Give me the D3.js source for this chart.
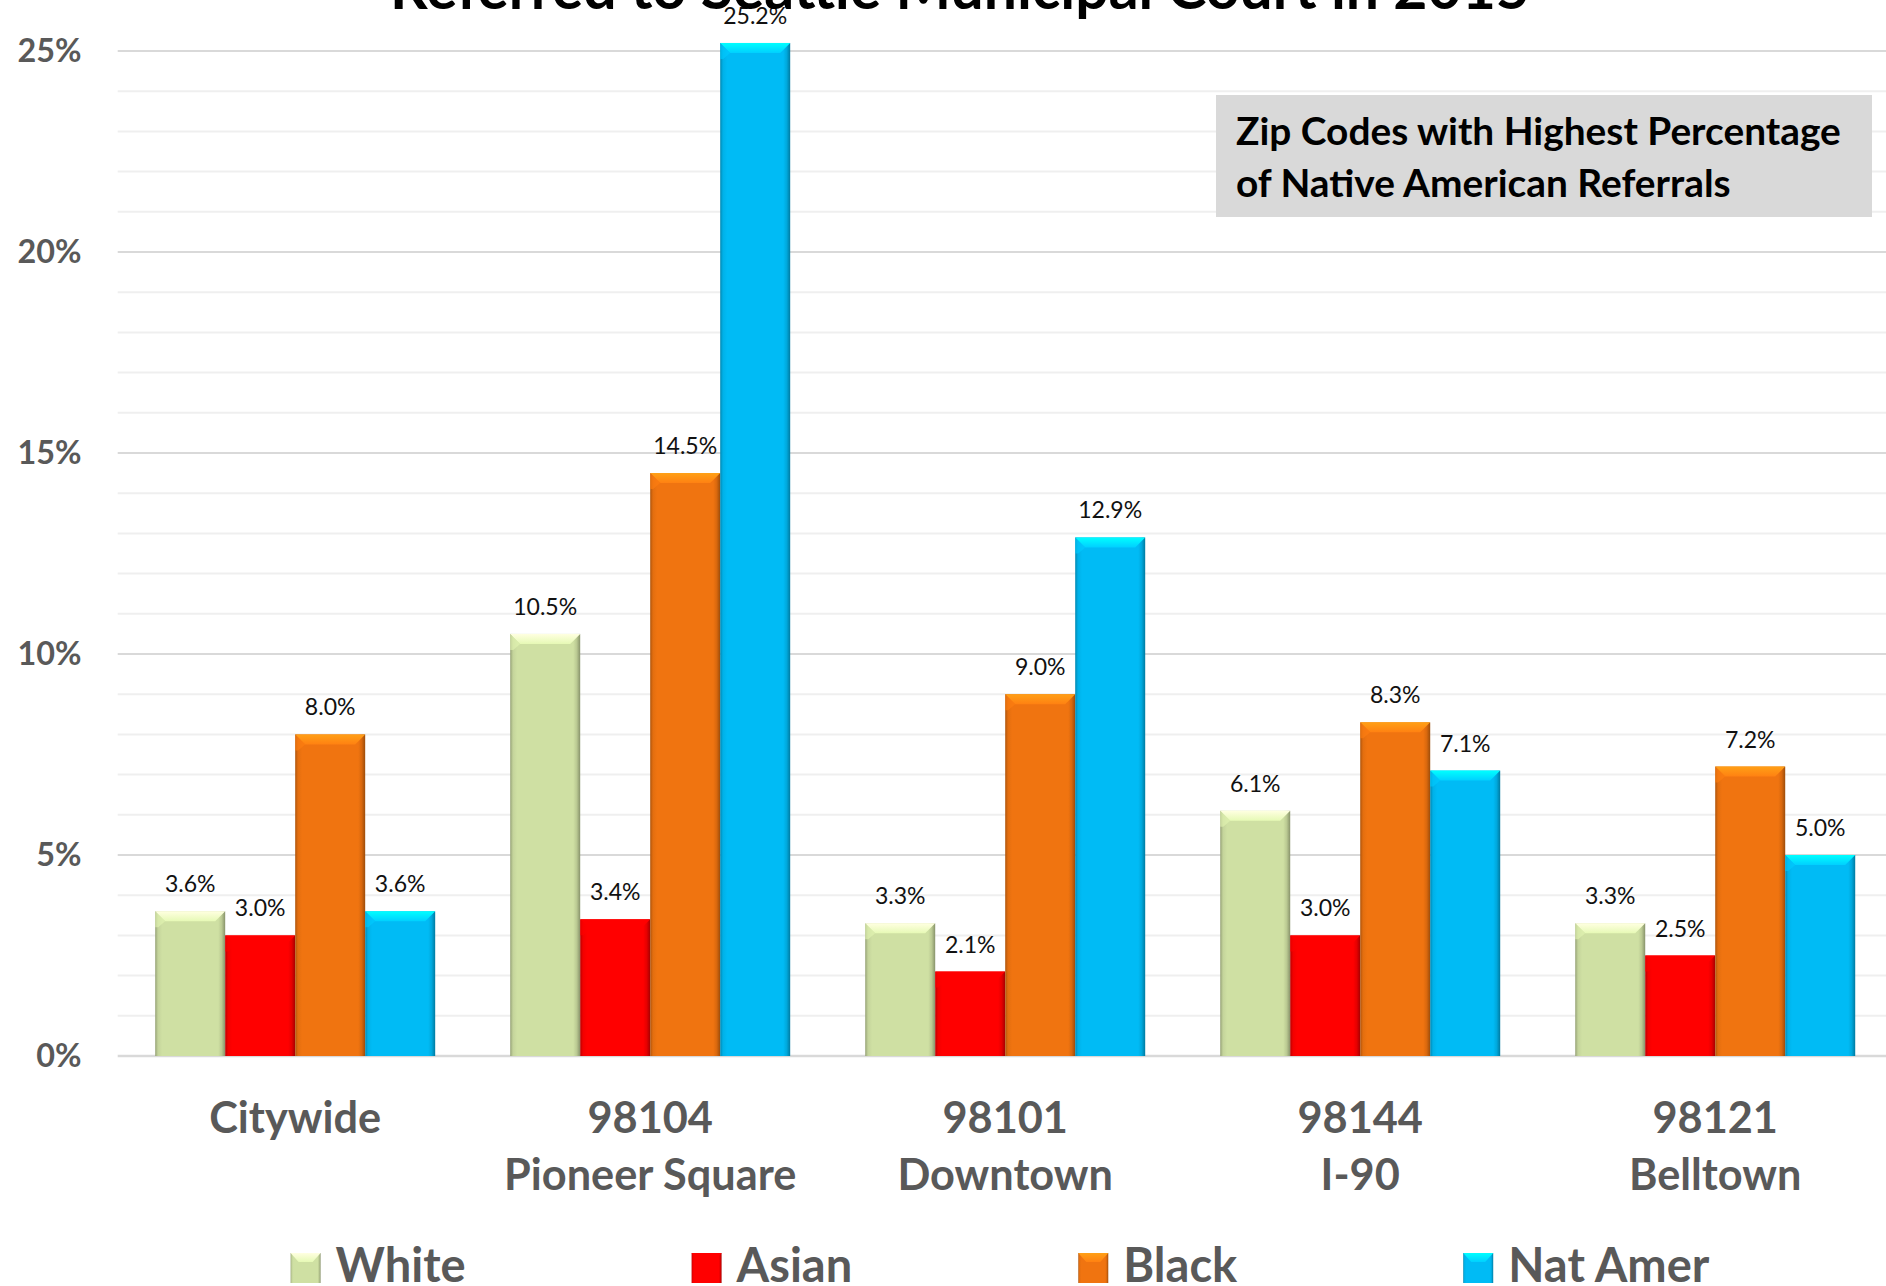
<!DOCTYPE html>
<html><head><meta charset="utf-8">
<script src="https://cdn.jsdelivr.net/npm/d3@7"></script>
<style>body{margin:0;background:#fff;} svg{display:block}</style>
</head><body><svg id="chart" width="1886" height="1286"></svg>
<script>
// ---- data ----
const categories = ["Citywide","98104","98101","98144","98121"];
const subLabels = ["","Pioneer Square","Downtown","I-90","Belltown"];
const seriesNames = ["White","Asian","Black","Nat Amer"];
const white   = [3.6,10.5,3.3,6.1,3.3];
const asian   = [3.0,3.4,2.1,3.0,2.5];
const black   = [8.0,14.5,9.0,8.3,7.2];
const natAmer = [3.6,25.2,12.9,7.1,5.0];
const yTicks = [0,5,10,15,20,25];
const titleText = "Referred to Seattle Municipal Court in 2015";
const noteLines = ["Zip Codes with Highest Percentage","of Native American Referrals"];
const seriesColors = ["#cfe0a3","#ff0000","#f07410","#00bbf5"];

const seriesValues = [white, asian, black, natAmer];
const FONT = "Lato, 'Open Sans', sans-serif";
const svg = d3.select("#chart");
const defs = svg.append("defs");

const x = d3.scaleBand().domain(categories).range([117.7, 1892.7]).paddingInner(0.2113).paddingOuter(0.1056);
const xs = d3.scaleBand().domain(seriesNames).range([0, x.bandwidth()]);
const y = d3.scaleLinear().domain([0,25]).range([1056, 51]);

function fitSize(text, weight, target) {
  const t = svg.append("text").attr("font-family", FONT).attr("font-weight", weight).attr("font-size", 100).text(text);
  const w = t.node().getComputedTextLength();
  t.remove();
  return 100 * target / w;
}

// gridlines
const minor = y.ticks(25);
svg.append("g").selectAll("line").data(minor).join("line")
  .attr("x1", 117.7).attr("x2", 1886)
  .attr("y1", d => y(d)).attr("y2", d => y(d))
  .attr("stroke", d => d % 5 === 0 ? "#d9d9d9" : "#efefef")
  .attr("stroke-width", d => d === 0 ? 2.5 : 2);

// y axis labels
const tickFs = fitSize("25%", 700, 64);
svg.append("g").selectAll("text").data(yTicks).join("text")
  .attr("x", 81.5).attr("y", d => y(d) + 11)
  .attr("text-anchor", "end")
  .attr("font-family", FONT).attr("font-weight", 700).attr("font-size", tickFs)
  .attr("fill", "#595959")
  .text(d => d + "%");

// gradients
seriesColors.forEach((c, i) => {
  const base = d3.color(c);
  const g = defs.append("linearGradient").attr("id", "side" + i).attr("x1", 0).attr("x2", 1).attr("y1", 0).attr("y2", 0);
  g.append("stop").attr("offset", 0).attr("stop-color", base.darker(0.9));
  g.append("stop").attr("offset", 0.04).attr("stop-color", base.darker(0.15));
  g.append("stop").attr("offset", 0.1).attr("stop-color", base);
  g.append("stop").attr("offset", 0.9).attr("stop-color", base);
  g.append("stop").attr("offset", 0.95).attr("stop-color", base.darker(0.3));
  g.append("stop").attr("offset", 1).attr("stop-color", base.darker(1.2));
  const t = defs.append("linearGradient").attr("id", "top" + i).attr("x1", 0).attr("x2", 0).attr("y1", 0).attr("y2", 1);
  t.append("stop").attr("offset", 0).attr("stop-color", base.brighter(0.9));
  t.append("stop").attr("offset", 1).attr("stop-color", base.brighter(0.3));
});

// bars
const barData = [];
categories.forEach((cat, ci) => {
  seriesNames.forEach((s, si) => {
    barData.push({cat, s, si, v: seriesValues[si][ci]});
  });
});
const bevel = 10;
const bars = svg.append("g").selectAll("g").data(barData).join("g");
bars.append("rect")
  .attr("x", d => x(d.cat) + xs(d.s))
  .attr("y", d => y(d.v))
  .attr("width", xs.bandwidth())
  .attr("height", d => y(0) - y(d.v))
  .attr("fill", d => `url(#side${d.si})`);
bars.append("polygon")
  .attr("points", d => {
    const x0 = x(d.cat) + xs(d.s), x1 = x0 + xs.bandwidth(), y0 = y(d.v);
    return [[x0,y0],[x1,y0],[x1-bevel,y0+bevel],[x0+bevel,y0+bevel]].map(p => p.join(",")).join(" ");
  })
  .attr("fill", d => `url(#top${d.si})`);
bars.append("polygon")
  .attr("points", d => {
    const x0 = x(d.cat) + xs(d.s), y0 = y(d.v);
    return [[x0,y0],[x0+bevel,y0+bevel],[x0+3,y0+bevel+6],[x0,y0+bevel+6]].map(p => p.join(",")).join(" ");
  })
  .attr("fill", d => d3.color(seriesColors[d.si]).brighter(0.25)).attr("opacity", 0.6);

// data labels
const lblFs = fitSize("10.5%", 400, 64);
svg.append("g").selectAll("text").data(barData).join("text")
  .attr("x", d => x(d.cat) + xs(d.s) + xs.bandwidth() / 2)
  .attr("y", d => y(d.v) - 19)
  .attr("text-anchor", "middle")
  .attr("font-family", FONT).attr("font-size", lblFs)
  .attr("fill", "#111")
  .text(d => d.v.toFixed(1) + "%");

// category labels
const catFs = fitSize("Citywide", 700, 172);
const cg = svg.append("g").selectAll("text").data(categories).join("text")
  .attr("text-anchor", "middle")
  .attr("font-family", FONT).attr("font-weight", 700).attr("font-size", catFs)
  .attr("fill", "#595959");
cg.append("tspan").attr("x", d => x(d) + x.bandwidth() / 2).attr("y", 1133).text(d => d);
cg.append("tspan").attr("x", d => x(d) + x.bandwidth() / 2).attr("y", 1190).text((d, i) => subLabels[i]);

// legend
const legFs = fitSize("White", 700, 130);
const leg = svg.append("g");
const items = leg.selectAll("g").data(seriesNames).join("g");
items.append("text").attr("x", 45).attr("y", 1282)
  .attr("font-family", FONT).attr("font-weight", 700).attr("font-size", legFs)
  .attr("fill", "#595959").text(d => d);
let widths = [];
items.each(function() { widths.push(45 + d3.select(this).select("text").node().getComputedTextLength()); });
const gap = 226;
const total = d3.sum(widths) + gap * (widths.length - 1);
let cx = 1000 - total / 2;
items.attr("transform", (d, i) => { const t = `translate(${cx},0)`; cx += widths[i] + gap; return t; });
items.append("rect").attr("x", 0).attr("y", 1253).attr("width", 30).attr("height", 30)
  .attr("fill", (d, i) => `url(#side${i})`);
items.append("polygon")
  .attr("points", "0,1253 30,1253 22,1262 8,1262")
  .attr("fill", (d, i) => `url(#top${i})`);

// annotation box
svg.append("rect").attr("x", 1216).attr("y", 95).attr("width", 656).attr("height", 122).attr("fill", "#d9d9d9");
const noteFs = fitSize(noteLines[0], 700, 605);
svg.append("g").selectAll("text").data(noteLines).join("text")
  .attr("x", 1236).attr("y", (d, i) => 145 + i * 52)
  .attr("font-family", FONT).attr("font-weight", 700).attr("font-size", noteFs)
  .attr("fill", "#000").text(d => d);

// title (mostly cut off at the top)
const titleFs = fitSize(titleText, 700, 1140);
svg.append("text").attr("x", 960).attr("y", 9).attr("text-anchor", "middle")
  .attr("font-family", FONT).attr("font-weight", 700).attr("font-size", titleFs)
  .attr("fill", "#000").text(titleText);
</script>
</body></html>
